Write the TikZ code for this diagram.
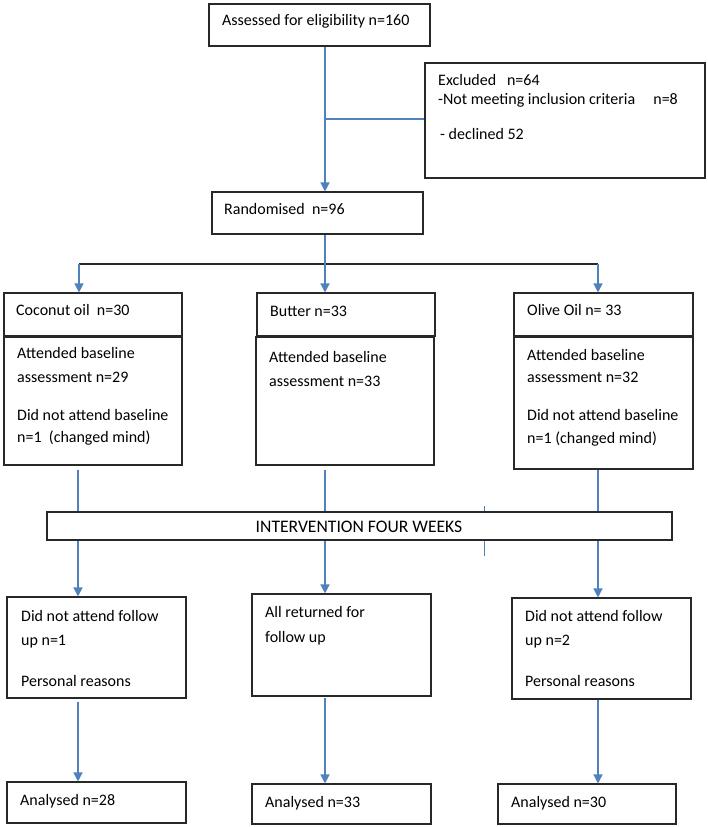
\documentclass[tikz,border=0pt]{standalone}
\usepackage{fontspec}
\setmainfont{Carlito}
\usetikzlibrary{arrows.meta}
\definecolor{lineblue}{RGB}{79,129,189}
\definecolor{boxgray}{RGB}{40,40,40}
\tikzset{
  box/.style={draw=boxgray, line width=1.1pt, fill=white, inner sep=0pt},
  txt/.style={anchor=base west, inner sep=0pt, font=\fontsize{16}{19}\selectfont},
  arr/.style={draw=lineblue, line width=1.4pt, -{Triangle[length=9pt,width=9pt]}},
  ln/.style={draw=lineblue, line width=1.4pt},
}
\newcommand{\bx}[5]{\node[box, minimum width=#4pt-#2pt, minimum height=#5pt-#3pt] (#1) at ({(#2+#4)/2},{-(#3+#5)/2}) {};}
\begin{document}
\begin{tikzpicture}[x=1pt,y=1pt]
\useasboundingbox (0,0) rectangle (708,-827);
% columns
\coordinate (cL) at (78,0);
\coordinate (cM) at (325,0);
\coordinate (cR) at (598,0);
% boxes
\bx{elig}{209}{4}{430}{46}
\bx{excl}{425}{63}{705}{178}
\bx{rand}{212}{192}{423}{234}
\bx{coco}{4}{293}{182}{336}
\bx{cocob}{4}{337}{182}{465}
\bx{butt}{257}{293}{435}{336}
\bx{buttb}{256}{337}{434}{465}
\bx{olive}{514}{293}{693}{336}
\bx{oliveb}{514}{337}{693}{469}
\bx{cocof}{7}{597}{186}{698}
\bx{buttf}{252}{594}{431}{696}
\bx{olivef}{512}{598}{691}{699}
\bx{coca}{7}{782}{186}{823}
\bx{butta}{252}{784}{431}{824}
\bx{olivea}{498}{784}{676}{824}
% stray tick behind intervention box
\coordinate (tickA) at (484,-506);
\coordinate (tickB) at (484,-556);
\draw[ln, line width=1pt] (tickA) -- (tickB);
\bx{interv}{47}{512}{672}{540}
% texts
\node[txt] (t1) at (222,-25) {Assessed for eligibility n=160};
\node[txt] (t2) at (438,-85) {Excluded \ \ n=64};
\node[txt] (t3) at (438,-104) {-Not meeting inclusion criteria \ \ \ \ n=8};
\node[txt] (t4) at (440,-139) {- declined 52};
\node[txt] (t5) at (224,-214) {Randomised \ n=96};
\node[txt] (t6) at (16,-315) {Coconut oil \ n=30};
\node[txt] (t7) at (17,-358) {Attended baseline};
\node[txt] (t8) at (17,-382) {assessment n=29};
\node[txt] (t9) at (17,-420) {Did not attend baseline};
\node[txt] (t10) at (17,-442) {n=1 \ (changed mind)};
\node[txt] (t11) at (270,-316) {Butter n=33};
\node[txt] (t12) at (269,-362) {Attended baseline};
\node[txt] (t13) at (269,-386) {assessment n=33};
\node[txt] (t14) at (527,-315) {Olive Oil n= 33};
\node[txt] (t15) at (527,-360) {Attended baseline};
\node[txt] (t16) at (527,-382) {assessment n=32};
\node[txt] (t17) at (527,-420) {Did not attend baseline};
\node[txt] (t18) at (527,-443) {n=1 (changed mind)};
\node[txt, anchor=base, font=\fontsize{17.6}{20}\selectfont] (t19) at (359,-532) {INTERVENTION FOUR WEEKS};
\node[txt] (t20) at (21,-621) {Did not attend follow};
\node[txt] (t21) at (21,-645) {up n=1};
\node[txt] (t22) at (21,-686) {Personal reasons};
\node[txt] (t23) at (265,-617) {All returned for};
\node[txt] (t24) at (265,-642) {follow up};
\node[txt] (t25) at (525,-621) {Did not attend follow};
\node[txt] (t26) at (525,-645) {up n=2};
\node[txt] (t27) at (525,-686) {Personal reasons};
\node[txt] (t28) at (20,-805) {Analysed n=28};
\node[txt] (t29) at (265,-807) {Analysed n=33};
\node[txt] (t30) at (511,-807) {Analysed n=30};
% connectors
\draw[arr] (elig.south -| cM) -- (rand.north -| cM);
\coordinate (exJ) at (325,-119);
\draw[ln] (exJ) -- (excl.west |- exJ);
\coordinate (brL) at (79,-264);
\coordinate (brR) at (598,-264);
\coordinate (brM) at (325,-264);
\draw[draw=boxgray, line width=1.1pt] (brL) -- (brR);
\draw[ln] (rand.south -| cM) -- (brM);
\draw[arr] (brL) -- (coco.north -| brL);
\draw[arr] (brM) -- (butt.north -| brM);
\draw[arr] (brR) -- (olive.north -| brR);
\draw[ln] ([yshift=-4pt]cocob.south -| cL) -- (interv.north -| cL);
\draw[ln] ([yshift=-4pt]buttb.south -| cM) -- (interv.north -| cM);
\draw[ln] (oliveb.south -| cR) -- (interv.north -| cR);
\draw[arr] (interv.south -| cL) -- (cocof.north -| cL);
\draw[arr] (interv.south -| cM) -- (buttf.north -| cM);
\draw[arr] (interv.south -| cR) -- (olivef.north -| cR);
\draw[arr] ([yshift=-3pt]cocof.south -| cL) -- (coca.north -| cL);
\draw[arr] ([yshift=-1pt]buttf.south -| cM) -- (butta.north -| cM);
\draw[arr] (olivef.south -| cR) -- (olivea.north -| cR);
\end{tikzpicture}
\end{document}
